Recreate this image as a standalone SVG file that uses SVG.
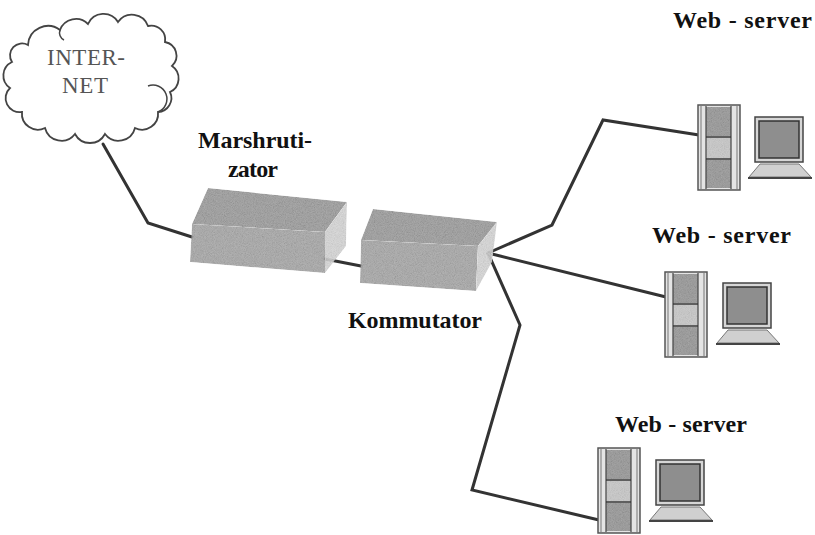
<svg xmlns="http://www.w3.org/2000/svg" width="815" height="535" viewBox="0 0 815 535">
  <defs>
    <style>
      .lbl { font-family: "Liberation Serif", "Times New Roman", serif; font-size: 24px; font-weight: bold; fill: #111; }
      .cloud-lbl { font-family: "Liberation Serif", "Times New Roman", serif; font-size: 23px; fill: #555; }
      .wire { fill: none; stroke: #333; stroke-width: 3; stroke-linejoin: miter; stroke-linecap: round; }
      .cloud { fill: #fff; stroke: #444; stroke-width: 1.8; }
      .box-top { fill: #a2a2a2; }
      .box-front { fill: #acacac; }
      .box-side { fill: #d8d8d8; }
    </style>
    <!-- grainy texture for the device boxes -->
    <filter id="grain" x="0" y="0" width="100%" height="100%">
      <feTurbulence type="fractalNoise" baseFrequency="1.1" numOctaves="2" seed="4" result="noise"/>
      <feColorMatrix in="noise" type="saturate" values="0" result="grey"/>
      <feComposite in="SourceGraphic" in2="grey" operator="arithmetic" k1="0" k2="0.85" k3="0.35" k4="-0.12" result="mix"/>
      <feComposite in="mix" in2="SourceGraphic" operator="in"/>
    </filter>
    <!-- server tower -->
    <g id="tower">
      <rect x="0" y="0" width="42" height="85" fill="#e4e4e4" stroke="#555" stroke-width="1.5"/>
      <line x1="3" y1="1" x2="3" y2="84" stroke="#777" stroke-width="1"/>
      <line x1="39" y1="1" x2="39" y2="84" stroke="#777" stroke-width="1"/>
      <g filter="url(#grain)">
        <rect x="8" y="2" width="25" height="29" fill="#a0a0a0"/>
        <rect x="8" y="33" width="25" height="20" fill="#cdcdcd"/>
        <rect x="8" y="55" width="25" height="28" fill="#a0a0a0"/>
      </g>
      <line x1="8" y1="1" x2="8" y2="84" stroke="#444" stroke-width="1.2"/>
      <line x1="33" y1="1" x2="33" y2="84" stroke="#444" stroke-width="1.2"/>
      <line x1="8" y1="32" x2="33" y2="32" stroke="#333" stroke-width="1.5"/>
      <line x1="8" y1="54" x2="33" y2="54" stroke="#333" stroke-width="1.5"/>
    </g>
    <!-- workstation monitor -->
    <g id="monitor">
      <rect x="0" y="0" width="48" height="45" fill="#d6d6d6" stroke="#444" stroke-width="1.5"/>
      <rect x="4" y="4" width="40" height="37" fill="#8e8e8e" stroke="#333" stroke-width="1.5"/>
      <polygon points="5,47 44,47 56,60 -6,60" fill="#d0d0d0" stroke="#777" stroke-width="1"/>
      <line x1="-7" y1="61" x2="57" y2="61" stroke="#444" stroke-width="2"/>
    </g>
  </defs>

  <rect width="815" height="535" fill="#fff"/>

  <!-- connectors -->
  <g id="connectors">
    <polyline class="wire" points="103,144 148,223 192,237"/>
    <polyline class="wire" points="325,259 361,266"/>
    <polyline class="wire" points="488,253 552,225 603,120 699,135"/>
    <polyline class="wire" points="488,253 666,297"/>
    <polyline class="wire" points="488,253 520,325 472,490 599,520"/>
  </g>

  <!-- cloud -->
  <g id="internet">
    <path class="cloud" d="M28,45 A20,20 0 0 1 60,30 A17,17 0 0 1 88,24 A17,17 0 0 1 118,22 A17,17 0 0 1 148,26 A14,14 0 0 1 165,42 A14,14 0 0 1 172,66 A15,15 0 0 1 170,92 A14,14 0 0 1 158,112 A16,16 0 0 1 135,128 A17,17 0 0 1 105,134 A17,17 0 0 1 75,134 A17,17 0 0 1 45,128 A16,16 0 0 1 22,112 A14,14 0 0 1 10,88 A15,15 0 0 1 12,62 A12,12 0 0 1 28,45 Z"/>
    <path d="M60,30 A8,8 0 0 0 64,40" fill="none" stroke="#444" stroke-width="1.5"/>
    <path d="M158,112 A10,10 0 0 0 148,86" fill="none" stroke="#444" stroke-width="1.5"/>
    <text class="cloud-lbl" x="47" y="65" textLength="78">INTER-</text>
    <text class="cloud-lbl" x="62" y="93" textLength="46">NET</text>
  </g>

  <!-- router -->
  <g id="router">
    <g filter="url(#grain)">
      <polygon class="box-top" points="208,188 347,202 325,232 192,224"/>
      <polygon class="box-front" points="192,224 325,232 325,273 190,262"/>
      <polygon class="box-side" points="325,232 347,202 346,246 325,273"/>
    </g>
    <text class="lbl" x="198" y="148" textLength="114">Marshruti-</text>
    <text class="lbl" x="228" y="177" textLength="50">zator</text>
  </g>

  <!-- switch -->
  <g id="switch">
    <g filter="url(#grain)">
      <polygon class="box-top" points="373,209 497,222 478,246 361,240"/>
      <polygon class="box-front" points="361,240 478,246 476,291 360,283"/>
      <polygon class="box-side" points="478,246 497,222 492,262 476,291"/>
    </g>
    <text class="lbl" x="348" y="328" textLength="134">Kommutator</text>
  </g>

  <!-- web servers -->
  <g id="server1">
    <use href="#tower" x="698" y="105"/>
    <use href="#monitor" x="755" y="117"/>
    <text class="lbl" x="673" y="28" textLength="139">Web - server</text>
  </g>
  <g id="server2">
    <use href="#tower" x="665" y="272"/>
    <use href="#monitor" x="723" y="283"/>
    <text class="lbl" x="652" y="243" textLength="139">Web - server</text>
  </g>
  <g id="server3">
    <use href="#tower" x="598" y="448"/>
    <use href="#monitor" x="656" y="460"/>
    <text class="lbl" x="615" y="432" textLength="132">Web - server</text>
  </g>
</svg>
